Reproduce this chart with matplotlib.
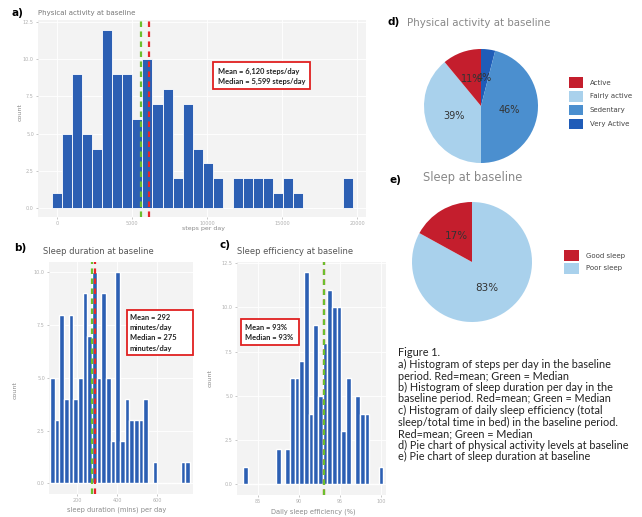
import numpy as np
import matplotlib
matplotlib.use('Agg')
import matplotlib.pyplot as plt
from matplotlib.patches import Patch, Rectangle

W, H = 642, 517

# a) steps per day histogram (30 bins)
steps_bin_start = 0
steps_bin_width = 668
steps_counts = [1, 5, 9, 5, 4, 12, 9, 9, 6, 10, 7, 8, 2, 7, 4, 3, 2, 0,
                2, 2, 2, 2, 1, 2, 1, 0, 0, 0, 0, 2]
steps_mean, steps_median = 6120, 5599
steps_ticks = [0, 5000, 10000, 15000, 20000]

# b) sleep duration histogram
dur_bin_start = 76.5
dur_bin_width = 23.33
dur_counts = [5, 3, 8, 4, 8, 4, 5, 9, 7, 10, 5, 9, 5, 2, 10, 2, 4, 3, 3, 3,
              4, 0, 1, 0, 0, 0, 0, 0, 1, 1]
dur_mean, dur_median = 292, 275
dur_ticks = [200, 400, 600]

# c) sleep efficiency histogram
eff_bin_start = 83.47
eff_bin_width = 0.57
eff_counts = [1, 0, 0, 0, 0, 0, 0, 2, 0, 2, 6, 6, 7, 12, 4, 9, 5, 8, 11, 10,
              10, 3, 6, 0, 5, 4, 4, 0, 0, 1]
eff_mean, eff_median = 93, 93
eff_ticks = [85, 90, 95, 100]

# d) physical activity pie
pa_labels = ['Active', 'Fairly active', 'Sedentary', 'Very Active']
pa_pct = [11, 39, 46, 4]
pa_colors = ['#c41e2d', '#a9d1ec', '#4b8fcf', '#1f5cb8']

# e) sleep pie
sl_labels = ['Good sleep', 'Poor sleep']
sl_pct = [17, 83]
sl_colors = ['#c41e2d', '#a9d1ec']

caption = ["Figure 1.",
           "a) Histogram of steps per day in the baseline",
           "period. Red=mean; Green = Median",
           "b) Histogram of sleep duration per day in the",
           "baseline period. Red=mean; Green = Median",
           "c) Histogram of daily sleep efficiency (total",
           "sleep/total time in bed) in the baseline period.",
           "Red=mean; Green = Median",
           "d) Pie chart of physical activity levels at baseline",
           "e) Pie chart of sleep duration at baseline"]

BAR = '#2c5fb3'
RED = '#e5262b'
GREEN = '#6cbf2e'
GREY = '#8a8a8a'


def fx(x):
    return x / W


def fy(y):
    return 1 - y / H


def px_axes(l, t, r, b):
    return fig.add_axes([l / W, 1 - b / H, (r - l) / W, (b - t) / H])


def stat_box(l, t, r, b, lines, tx, ty0, dy):
    fig.add_artist(Rectangle((fx(l), fy(b)), (r - l) / W, (b - t) / H,
                             transform=fig.transFigure, facecolor='white',
                             edgecolor='#e02020', linewidth=1.3, zorder=5))
    for i, s in enumerate(lines):
        fig.text(fx(tx), fy(ty0 + dy * i), s, fontsize=5.4, family='Lato',
                 fontweight='bold', color='#222222', va='center', zorder=6)


def hist_panel(ax, start, width, counts, mean, median, ticks, xlim, ylim, gap):
    x = start + width * np.arange(len(counts))
    ax.set_facecolor('#f3f3f3')
    ax.grid(True, color='white', linewidth=0.6)
    ax.set_axisbelow(True)
    ax.bar(x, counts, width=width, color=BAR, edgecolor='white', linewidth=gap)
    ax.axvline(mean, color=RED, linestyle=(0, (2.5, 2)), linewidth=1.6)
    ax.axvline(median, color=GREEN, linestyle=(0, (2.5, 2)), linewidth=1.6)
    ax.set_xlim(*xlim)
    ax.set_ylim(*ylim)
    ax.set_xticks(ticks)
    ax.set_xticklabels([str(t) for t in ticks])
    yt = [v for v in [0, 2.5, 5.0, 7.5, 10.0, 12.5] if v <= ylim[1]]
    ax.set_yticks(yt)
    ax.set_yticklabels(['%.1f' % v for v in yt])
    ax.tick_params(labelsize=3.5, colors='#b0b0b0', length=1.5, width=0.5, pad=1.5)
    for s in ax.spines.values():
        s.set_visible(False)


fig = plt.figure(figsize=(W / 100, H / 100), dpi=100)
fig.patch.set_facecolor('white')

# ---- a)
ax_a = px_axes(38, 20, 366, 217)
hist_panel(ax_a, steps_bin_start, steps_bin_width, steps_counts, steps_mean,
           steps_median, steps_ticks, (-1287, 20580), (-0.6, 12.64), 0.6)
fig.text(fx(12), fy(13), 'a)', fontsize=7.5, fontweight='bold', va='center')
fig.text(fx(38), fy(13), 'Physical activity at baseline', fontsize=5, color='#777777', va='center')
fig.text(fx(203), fy(228), 'steps per day', fontsize=4.5, color=GREY, ha='center', va='center')
fig.text(fx(20), fy(112), 'count', fontsize=4.5, color=GREY, rotation=90, ha='center', va='center')
stat_box(213, 62, 310, 89, ['Mean = 6,120 steps/day', 'Median = 5,599 steps/day'], 218, 71, 10)

# ---- b)
ax_b = px_axes(49, 262, 193, 494)
hist_panel(ax_b, dur_bin_start, dur_bin_width, dur_counts, dur_mean,
           dur_median, dur_ticks, (60, 780), (-0.5, 10.49), 1.0)
fig.text(fx(14), fy(248), 'b)', fontsize=7.5, fontweight='bold', va='center')
fig.text(fx(43), fy(252), 'Sleep duration at baseline', fontsize=6, color='#555555', va='center')
fig.text(fx(117), fy(510), 'sleep duration (mins) per day', fontsize=4.8, color=GREY, ha='center', va='center')
fig.text(fx(15), fy(390), 'count', fontsize=4.5, color=GREY, rotation=90, ha='center', va='center')
stat_box(127, 310, 193, 355, ['Mean = 292', 'minutes/day', 'Median = 275', 'minutes/day'],
         130, 317, 10.4)

# ---- c)
ax_c = px_axes(237, 262, 386, 495)
hist_panel(ax_c, eff_bin_start, eff_bin_width, eff_counts, eff_mean,
           eff_median, eff_ticks, (82.44, 100.6), (-0.6, 12.57), 1.0)
fig.text(fx(219), fy(245), 'c)', fontsize=7.5, fontweight='bold', va='center')
fig.text(fx(237), fy(251), 'Sleep efficiency at baseline', fontsize=6, color='#555555', va='center')
fig.text(fx(313), fy(512), 'Daily sleep efficiency (%)', fontsize=4.8, color=GREY, ha='center', va='center')
fig.text(fx(210), fy(378), 'count', fontsize=4.5, color=GREY, rotation=90, ha='center', va='center')
stat_box(241, 319, 299, 345, ['Mean = 93%', 'Median = 93%'], 245, 327, 10)

# ---- d)
ax_d = px_axes(424, 49, 538, 163)
order_d = [3, 2, 1, 0]
ax_d.pie([pa_pct[i] for i in order_d], colors=[pa_colors[i] for i in order_d],
         startangle=90, counterclock=False, radius=1,
         autopct=lambda p: '%d%%' % round(p), pctdistance=0.5,
         textprops=dict(fontsize=7, color='#333333'))
ax_d.set_xlim(-1, 1)
ax_d.set_ylim(-1, 1)
fig.text(fx(388), fy(22), 'd)', fontsize=7.5, fontweight='bold', va='center')
fig.text(fx(407), fy(23), 'Physical activity at baseline', fontsize=7.4, color='#888888', va='center')
ax_d.legend([Patch(facecolor=c) for c in pa_colors], pa_labels, loc='upper left',
            bbox_to_anchor=(fx(569), fy(77)), bbox_transform=fig.transFigure,
            frameon=False, fontsize=5, handlelength=2.0, handleheight=2.0,
            labelspacing=0.45, handletextpad=1.0, borderpad=0, borderaxespad=0,
            labelcolor='#444444')

# ---- e)
ax_e = px_axes(412, 202, 532, 322)
order_e = [1, 0]
ax_e.pie([sl_pct[i] for i in order_e], colors=[sl_colors[i] for i in order_e],
         startangle=90, counterclock=False, radius=1,
         autopct=lambda p: '%d%%' % round(p), pctdistance=0.5,
         textprops=dict(fontsize=7.5, color='#333333'))
ax_e.set_xlim(-1, 1)
ax_e.set_ylim(-1, 1)
fig.text(fx(390), fy(180), 'e)', fontsize=7.5, fontweight='bold', va='center')
fig.text(fx(423), fy(177), 'Sleep at baseline', fontsize=8.3, color='#888888', va='center')
ax_e.legend([Patch(facecolor=c) for c in sl_colors], sl_labels, loc='upper left',
            bbox_to_anchor=(fx(564), fy(250)), bbox_transform=fig.transFigure,
            frameon=False, fontsize=5, handlelength=2.1, handleheight=2.1,
            labelspacing=0.2, handletextpad=1.0, borderpad=0, borderaxespad=0,
            labelcolor='#444444')

# ---- caption
for i, line in enumerate(caption):
    fig.text(fx(398), fy(353 + 11.5 * i), line, fontsize=7.8, family='Lato',
             color='#222222', va='center')

fig.savefig('out.png', dpi=100)
